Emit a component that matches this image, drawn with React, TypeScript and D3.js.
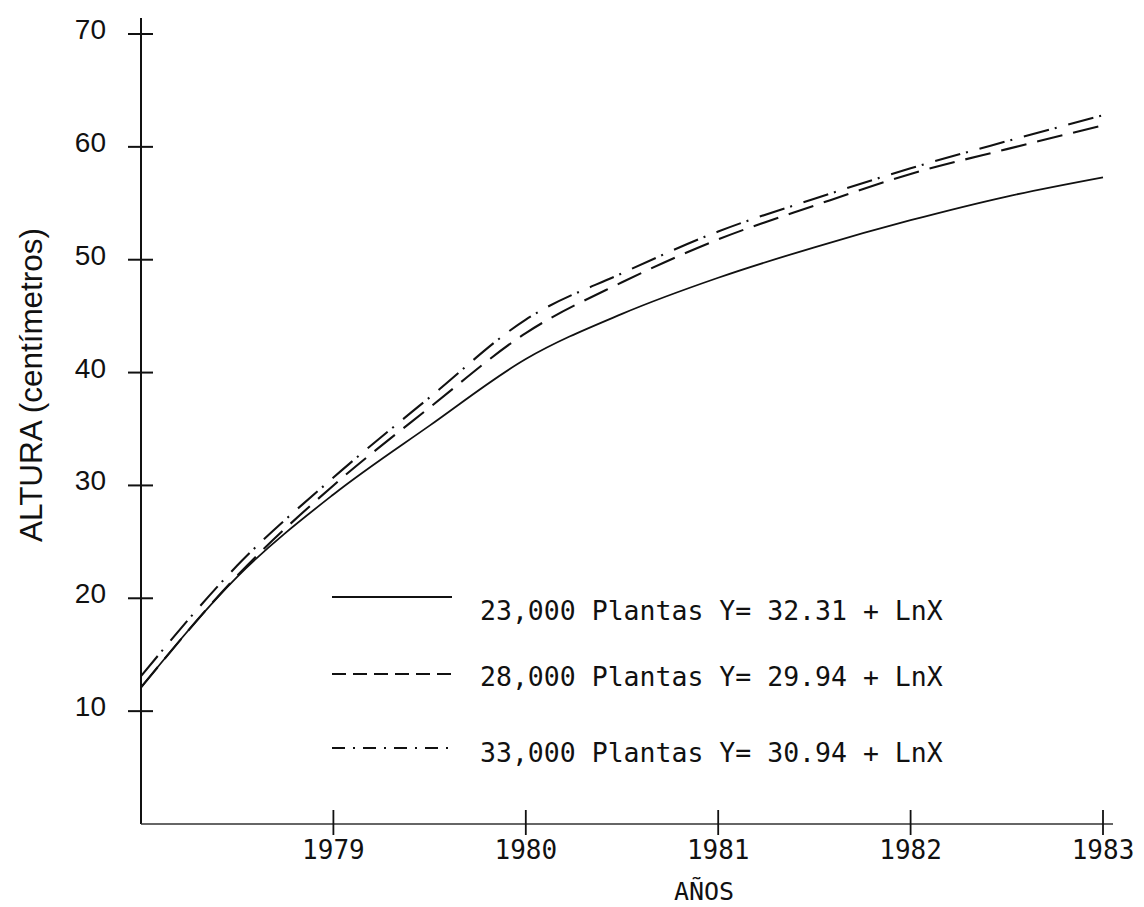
import React from "react";
import * as d3 from "d3";

const years = [1978, 1978.5, 1979, 1979.5, 1980, 1980.5, 1981, 1981.5, 1982, 1982.5, 1983];
const alturas23000 = [12.1, 21.9, 29.2, 35.3, 41.2, 45.2, 48.4, 51.1, 53.5, 55.6, 57.3];
const alturas28000 = [12.1, 22.0, 30.0, 36.9, 43.5, 48.0, 51.8, 54.8, 57.6, 59.8, 61.9];
const alturas33000 = [13.1, 22.9, 30.7, 37.8, 44.7, 48.8, 52.5, 55.4, 58.1, 60.5, 62.8];

const yTicks = [10, 20, 30, 40, 50, 60, 70];
const xTicks = [1979, 1980, 1981, 1982, 1983];

const seriesLabels = [
  "23,000 Plantas Y= 32.31 + LnX",
  "28,000 Plantas Y= 29.94 + LnX",
  "33,000 Plantas Y= 30.94 + LnX",
];
const yTitle = "ALTURA (centímetros)";
const xTitle = "AÑOS";

const W = 1144;
const H = 907;

export default function App() {
  const x = d3.scaleLinear().domain([1978, 1983]).range([141, 1103]);
  const y = d3.scaleLinear().domain([0, 70]).range([824, 34]);

  const line = d3
    .line<number>()
    .x((_, i) => x(years[i]))
    .y((d) => y(d))
    .curve(d3.curveMonotoneX);

  const series = [
    { values: alturas23000, dash: "none", width: 1.8, legendDash: "none" },
    { values: alturas28000, dash: "26,11", width: 2.1, legendDash: "14,7" },
    { values: alturas33000, dash: "26,6,2,12", width: 2.1, legendDash: "13,8,2,8" },
  ];

  const legendLineY = [597, 674, 748];
  const legendTextY = [620, 686, 762];

  const mono = "'DejaVu Sans Mono', 'Liberation Mono', monospace";
  const sans = "'Liberation Sans', Arial, sans-serif";

  return (
    <svg
      width={W}
      height={H}
      viewBox={`0 0 ${W} ${H}`}
      style={{ position: "absolute", left: 0, top: 0, display: "block", background: "#fff" }}
    >
      <rect x={0} y={0} width={W} height={H} fill="#fff" />
      {/* axes */}
      <line x1={x(1978)} y1={18} x2={x(1978)} y2={y(0)} stroke="#111" strokeWidth={2} />
      <line x1={x(1978)} y1={y(0)} x2={1113} y2={y(0)} stroke="#333" strokeWidth={1.6} />

      {/* y ticks */}
      {yTicks.map((t) => (
        <g key={t}>
          <line x1={x(1978) - 13} x2={x(1978) + 12} y1={y(t)} y2={y(t)} stroke="#111" strokeWidth={2} />
          <text
            x={106}
            y={y(t) + 5}
            textAnchor="end"
            fontFamily={sans}
            fontSize={28}
            fill="#111"
          >
            {t}
          </text>
        </g>
      ))}

      {/* x ticks */}
      {xTicks.map((t) => (
        <g key={t}>
          <line x1={x(t)} x2={x(t)} y1={y(0) - 14} y2={y(0) + 11} stroke="#111" strokeWidth={1.8} />
          <text
            x={x(t)}
            y={859}
            textAnchor="middle"
            fontFamily={mono}
            fontSize={26}
            fill="#111"
          >
            {t}
          </text>
        </g>
      ))}

      {/* axis titles */}
      <text
        transform={`translate(42, 385) rotate(-90)`}
        textAnchor="middle"
        fontFamily={sans}
        fontSize={31}
        fill="#111"
        textLength={314}
        lengthAdjust="spacingAndGlyphs"
      >
        {yTitle}
      </text>
      <text x={704} y={900} textAnchor="middle" fontFamily={mono} fontSize={25} fill="#111">
        {xTitle}
      </text>

      {/* curves */}
      {series.map((s, i) => (
        <path
          key={i}
          d={line(s.values) || ""}
          fill="none"
          stroke="#111"
          strokeWidth={s.width}
          strokeDasharray={s.dash}
        />
      ))}

      {/* legend */}
      {series.map((s, i) => (
        <g key={i}>
          <line
            x1={332}
            x2={452}
            y1={legendLineY[i]}
            y2={legendLineY[i]}
            stroke="#111"
            strokeWidth={1.8}
            strokeDasharray={s.legendDash}
          />
          <text x={480} y={legendTextY[i]} fontFamily={mono} fontSize={26.5} fill="#111">
            {seriesLabels[i]}
          </text>
        </g>
      ))}
    </svg>
  );
}
